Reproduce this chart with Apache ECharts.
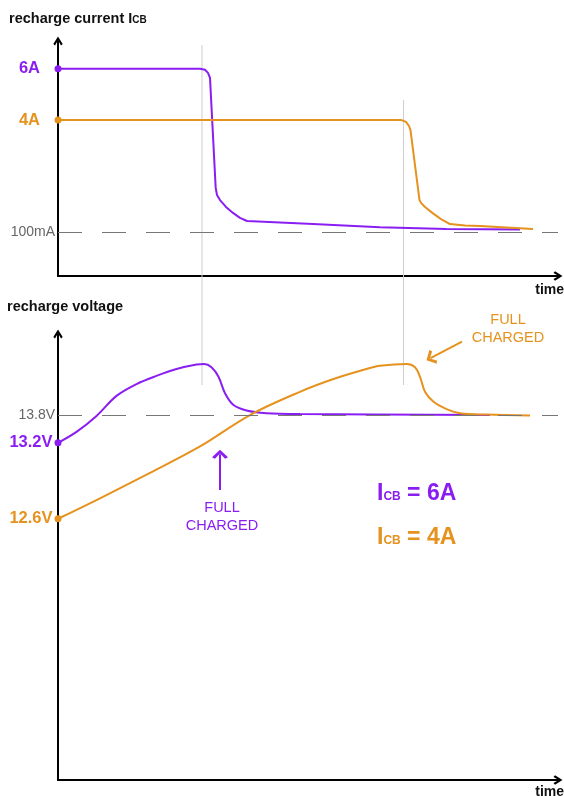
<!DOCTYPE html>
<html>
<head>
<meta charset="utf-8">
<script src="https://cdn.jsdelivr.net/npm/echarts@6/dist/echarts.min.js"></script>
<style>html,body{margin:0;padding:0;background:#fff}#c{width:564px;height:796px}</style>
</head>
<body>
<div id="c"></div>
<script>
// ---- data (schematic units: time 0..100, level 0..~98 per panel) ----
const PURPLE = '#8A1EF2';
const ORANGE = '#E5921E';

// top panel: recharge current
const curTime6 = [0, 28.4, 29.4, 30.0, 30.4, 31.54, 31.8, 32.4, 33.6, 35.0, 36.4, 37.8, 51.0, 64.4, 77.7, 92.4];
const curLevel6 = [87.0, 87.0, 86.6, 85.3, 83.2, 37.0, 34.0, 31.9, 29.0, 26.5, 24.4, 23.1, 21.8, 20.5, 19.7, 19.5];
const curTime4 = [0, 68.7, 69.6, 70.2, 70.5, 72.3, 72.6, 73.4, 75.0, 76.6, 78.4, 81.4, 84.4, 95.0];
const curLevel4 = [65.5, 65.5, 64.7, 63.0, 61.3, 31.9, 30.7, 29.0, 26.3, 23.9, 21.8, 21.2, 21.0, 19.7];
const curRefLevel = 18.5;               // 100mA
const curLabels = ['6A', '4A', '100mA'];

// bottom panel: recharge voltage
const voltTime6 = [0, 3.7, 7.7, 11.7, 15.7, 19.7, 23.7, 27.7, 29.2, 30.7, 32.1, 33.4, 35.1, 37.7, 41.7, 48.4, 86.4];
const voltLevel6 = [74.1, 76.5, 80.0, 84.4, 87.0, 88.8, 90.3, 91.3, 91.4, 90.7, 88.6, 85.0, 82.4, 81.2, 80.6, 80.4, 80.2];
const voltTime4 = [0, 8.4, 18.4, 28.4, 38.4, 48.4, 55.1, 61.7, 64.4, 69.7, 71.4, 72.4, 73.4, 75.1, 77.7, 80.4, 85.7, 94.4];
const voltLevel4 = [57.4, 61.9, 67.5, 73.3, 80.2, 85.3, 88.1, 90.3, 91.0, 91.4, 90.7, 88.6, 85.3, 83.1, 81.5, 80.6, 80.3, 80.1];
const voltRefLevel = 80.2;              // 13.8V
const voltLabels = ['13.2V', '12.6V', '13.8V'];

// guide lines (full charge moments)
const guideX = [28.8, 69.1];
const guideTop = [1, 0.838];

// annotation arrows
const arrow6 = [[32.4, 63.7], [32.4, 71.6]];
const arrow4 = [[80.8, 96.3], [74.5, 92.7]];

// ---- chart ----
const FONT = 'Liberation Sans, Arial, Helvetica, sans-serif';
const CHEV = 'path://M5,0 L10,8 L8.2,9.6 L5,4 L1.8,9.6 L0,8 Z';

function zip(xs, ys) { return xs.map((x, i) => [x, ys[i]]); }
function withStart(xs, ys, label, color, dist, size) {
  const d = zip(xs, ys).map(p => ({ value: p }));
  d[0] = {
    value: d[0].value, symbol: 'circle', symbolSize: 7,
    label: { show: true, position: 'left', distance: dist, formatter: label, color: color,
      fontWeight: 'bold', fontSize: size, fontFamily: FONT }
  };
  return d;
}
const axisLine = {
  show: true, onZero: false,
  lineStyle: { color: '#000', width: 2 },
  symbol: ['none', CHEV], symbolSize: [10, 9]
};
const hidden = { show: false };
function xA(grid, show) {
  return { type: 'value', gridIndex: grid, min: 0, max: 100, axisLine: show ? axisLine : hidden,
    axisTick: hidden, axisLabel: hidden, splitLine: hidden };
}
function yA(grid, max, show) {
  return { type: 'value', gridIndex: grid, min: 0, max: max, axisLine: show ? axisLine : hidden,
    axisTick: hidden, axisLabel: hidden, splitLine: hidden };
}
const dashRef = (level, text) => ({
  yAxis: level, symbol: 'none',
  lineStyle: { color: '#777', width: 1, type: [24, 20] },
  label: { show: true, position: 'start', distance: 3, formatter: text, color: '#666',
    fontSize: 14, fontFamily: FONT }
});
const arrowLine = (pts, color) => [
  { coord: pts[0], symbol: 'none', lineStyle: { color: color, width: 2, type: 'solid' } },
  { coord: pts[1], symbol: CHEV, symbolSize: [16, 9] }
];
const lineBase = {
  type: 'line', symbol: 'none', showSymbol: true, smooth: false,
  lineStyle: { width: 2 }, emphasis: { disabled: true }, silent: true, z: 3
};

const series = [
  Object.assign({}, lineBase, {
    xAxisIndex: 0, yAxisIndex: 0, color: PURPLE, lineStyle: { width: 2, color: PURPLE },
    itemStyle: { color: PURPLE },
    data: withStart(curTime6, curLevel6, curLabels[0], PURPLE, 14.5, 16.5),
    markLine: { silent: true, symbol: 'none', animation: false, data: [dashRef(curRefLevel, curLabels[2])] }
  }),
  Object.assign({}, lineBase, {
    xAxisIndex: 0, yAxisIndex: 0, color: ORANGE, lineStyle: { width: 2, color: ORANGE },
    itemStyle: { color: ORANGE },
    data: withStart(curTime4, curLevel4, curLabels[1], ORANGE, 14.5, 16.5)
  }),
  Object.assign({}, lineBase, {
    xAxisIndex: 1, yAxisIndex: 1, color: PURPLE, lineStyle: { width: 2, color: PURPLE },
    itemStyle: { color: PURPLE }, smooth: 0.35,
    data: withStart(voltTime6, voltLevel6, voltLabels[0], PURPLE, 2, 16.5),
    markLine: { silent: true, symbol: 'none', animation: false,
      data: [dashRef(voltRefLevel, voltLabels[2]), arrowLine(arrow6, PURPLE)] }
  }),
  Object.assign({}, lineBase, {
    xAxisIndex: 1, yAxisIndex: 1, color: ORANGE, lineStyle: { width: 2, color: ORANGE },
    itemStyle: { color: ORANGE }, smooth: 0.35,
    data: withStart(voltTime4, voltLevel4, voltLabels[1], ORANGE, 2, 16.5),
    markLine: { silent: true, symbol: 'none', animation: false,
      data: [arrowLine(arrow4, ORANGE)] }
  })
];
guideX.forEach((gx, i) => {
  series.push({
    type: 'line', xAxisIndex: 2, yAxisIndex: 2, symbol: 'none', silent: true, z: 1,
    lineStyle: { color: '#cfcfcf', width: 1 }, emphasis: { disabled: true },
    data: [[gx, 0], [gx, guideTop[i]]]
  });
});

const txt = (x, y, text, opts) => ({
  type: 'text', x: x, y: y, silent: true, z: 10,
  style: Object.assign({ text: text, fontFamily: FONT, verticalAlign: 'middle' }, opts)
});
const richIcb = (color) => ({
  a: { fontSize: 23, fontWeight: 'bold', fontFamily: FONT, fill: color, lineHeight: 26 },
  b: { fontSize: 12, fontWeight: 'bold', fontFamily: FONT, fill: color, verticalAlign: 'bottom', padding: [0, 0, 4, 0] }
});

const option = {
  animation: false,
  backgroundColor: '#fff',
  textStyle: { fontFamily: FONT },
  grid: [
    { left: 58, right: 6, top: 41, bottom: 796 - 276 },
    { left: 58, right: 6, top: 334, bottom: 796 - 780 },
    { left: 58, right: 6, top: 45, bottom: 796 - 385 }
  ],
  xAxis: [xA(0, true), xA(1, true), xA(2, false)],
  yAxis: [yA(0, 98.7, true), yA(1, 98.0, true), yA(2, 1, false)],
  series: series,
  graphic: [
    txt(9, 19, '{a|recharge current I}{b|CB}', { rich: {
      a: { fontSize: 14.5, fontWeight: 'bold', fontFamily: FONT, fill: '#111', lineHeight: 16 },
      b: { fontSize: 10, fontWeight: 'bold', fontFamily: FONT, fill: '#111', verticalAlign: 'bottom', padding: [0, 0, 2, 0] }
    } }),
    txt(7, 307, 'recharge voltage', { fontSize: 14.5, fontWeight: 'bold', fill: '#111' }),
    txt(564, 290, 'time', { fontSize: 14, fontWeight: 'bold', fill: '#111', align: 'right' }),
    txt(564, 792, 'time', { fontSize: 14, fontWeight: 'bold', fill: '#111', align: 'right' }),
    txt(222, 517, 'FULL\nCHARGED', { fontSize: 14.5, fill: PURPLE, align: 'center', lineHeight: 18 }),
    txt(508, 329, 'FULL\nCHARGED', { fontSize: 14.5, fill: ORANGE, align: 'center', lineHeight: 18 }),
    txt(377, 494, '{a|I}{b|CB}{a| = 6A}', { rich: richIcb(PURPLE) }),
    txt(377, 538, '{a|I}{b|CB}{a| = 4A}', { rich: richIcb(ORANGE) })
  ]
};
const chart = echarts.init(document.getElementById('c'), null, { renderer: 'canvas' });
chart.setOption(option);
</script>
</body>
</html>
